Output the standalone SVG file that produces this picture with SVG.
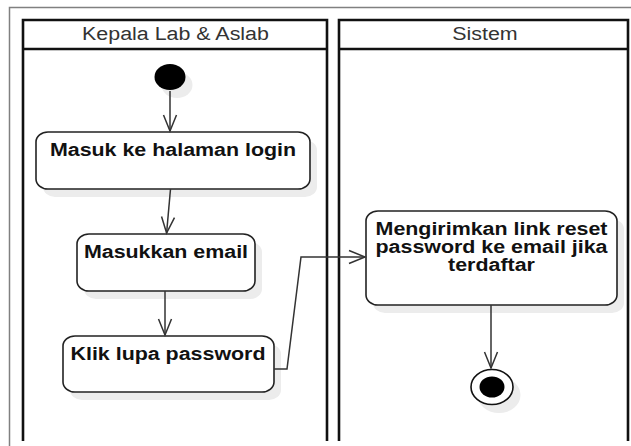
<svg xmlns="http://www.w3.org/2000/svg" width="631" height="446" viewBox="0 0 631 446">
  <style>
    .frame { fill: none; stroke: #808080; stroke-width: 1.5; }
    .lane { fill: none; stroke: #111; stroke-width: 2.6; }
    .head { font-family: "Liberation Sans", Arial, sans-serif; font-size: 18px; fill: #333; text-anchor: middle; }
    .act { fill: #fff; stroke: #222; stroke-width: 1.6; }
    .shadow { fill: #ececec; stroke: none; }
    .label { font-family: "Liberation Sans", Arial, sans-serif; font-size: 18px; font-weight: bold; fill: #111; text-anchor: middle; }
    .edge { fill: none; stroke: #333; stroke-width: 1.5; }
  </style>
  <defs>
    <marker id="open" markerUnits="userSpaceOnUse" markerWidth="20" markerHeight="20" refX="0" refY="0" viewBox="-18 -9 20 18" orient="auto">
      <path d="M-16,-6.5 L0,0 L-16,6.5" fill="none" stroke="#333" stroke-width="1.5"/>
    </marker>
  </defs>

  <rect width="631" height="446" fill="#fff"/>

  <!-- outer frame -->
  <rect class="frame" x="9.5" y="7.5" width="640" height="460"/>

  <!-- swimlanes -->
  <g id="lane-kepala">
    <path class="lane" d="M23,441 V20 H327 V441 M23,49 H327"/>
    <text class="head" transform="translate(175.5,40) scale(1.19,1)">Kepala Lab &amp; Aslab</text>
  </g>
  <g id="lane-sistem">
    <path class="lane" d="M339,441 V20 H628 V441 M339,49 H628"/>
    <text class="head" transform="translate(485,40) scale(1.19,1)">Sistem</text>
  </g>

  <!-- start -->
  <g id="start">
    <ellipse class="shadow" cx="177" cy="85" rx="15.5" ry="13"/>
    <ellipse cx="170" cy="77" rx="15.5" ry="13" fill="#000"/>
  </g>

  <g id="masuk-login">
    <rect class="shadow" x="43" y="140" width="274" height="57" rx="12" ry="10"/>
    <rect class="act" x="36" y="132" width="274" height="57" rx="12" ry="10"/>
    <text class="label" transform="translate(173,156) scale(1.19,1)">Masuk ke halaman login</text>
  </g>

  <g id="masukkan-email">
    <rect class="shadow" x="84" y="242" width="178" height="57" rx="12" ry="10"/>
    <rect class="act" x="77" y="234" width="178" height="57" rx="12" ry="10"/>
    <text class="label" transform="translate(166,258) scale(1.19,1)">Masukkan email</text>
  </g>

  <g id="klik-lupa">
    <rect class="shadow" x="70" y="344" width="211" height="56" rx="12" ry="10"/>
    <rect class="act" x="63" y="336" width="211" height="56" rx="12" ry="10"/>
    <text class="label" transform="translate(168,359.5) scale(1.19,1)">Klik lupa password</text>
  </g>

  <g id="kirim-link">
    <rect class="shadow" x="373" y="219" width="251" height="94" rx="12" ry="10"/>
    <rect class="act" x="366" y="211" width="251" height="94" rx="12" ry="10"/>
    <text class="label" transform="translate(491.5,235) scale(1.19,1)">Mengirimkan link reset</text>
    <text class="label" transform="translate(491.5,253) scale(1.19,1)">password ke email jika</text>
    <text class="label" transform="translate(491.5,271) scale(1.19,1)">terdaftar</text>
  </g>

  <!-- end -->
  <g id="end">
    <ellipse class="shadow" cx="499" cy="395" rx="21.5" ry="18"/>
    <ellipse cx="492" cy="387" rx="21" ry="17.5" fill="#fff" stroke="#111" stroke-width="1.6"/>
    <ellipse cx="492" cy="387" rx="12.5" ry="10.5" fill="#000"/>
  </g>

  <!-- connectors -->
  <g id="connectors">
    <path class="edge" d="M170,91 L170,131" marker-end="url(#open)"/>
    <path class="edge" d="M170.5,189 L166.6,233" marker-end="url(#open)"/>
    <path class="edge" d="M165,291 L165,335" marker-end="url(#open)"/>
    <path class="edge" d="M274,369 L287,369 L301,257 L365,257" marker-end="url(#open)"/>
    <path class="edge" d="M491,305 L491,368" marker-end="url(#open)"/>
  </g>
</svg>
